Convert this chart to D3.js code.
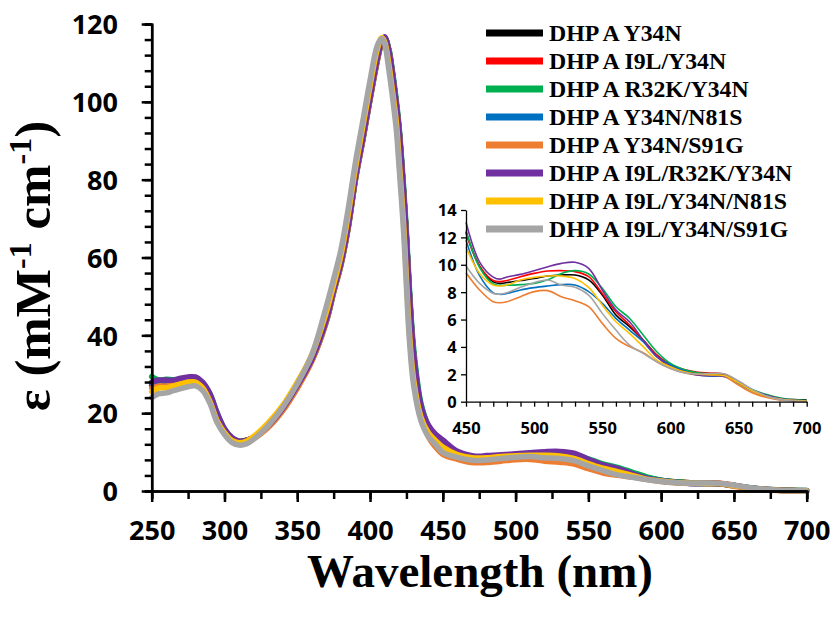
<!DOCTYPE html>
<html>
<head>
<meta charset="utf-8">
<script src="https://cdn.jsdelivr.net/npm/d3@7"></script>
<style>
  html, body { margin: 0; padding: 0; background: #fff; }
  svg { display: block; }
</style>
</head>
<body>
<svg id="chart" width="835" height="619"></svg>
<script>
// ---------- DATA ----------
const wavelengths = [250,255,260,265,270,275,280,285,290,295,300,305,310,315,320,330,340,350,360,370,375,380,385,390,395,400,405,408,410,413,415,418,420,423,425,427,430,435,440,445,450,460,470,475,480,490,500,510,520,530,540,550,560,570,580,590,600,610,620,630,640,650,660,670,680,690,700];

const seriesNames = ["DHP A Y34N","DHP A I9L/Y34N","DHP A R32K/Y34N","DHP A Y34N/N81S","DHP A Y34N/S91G","DHP A I9L/R32K/Y34N","DHP A I9L/Y34N/N81S","DHP A I9L/Y34N/S91G"];
const seriesColors = ["#000000","#FF0000","#00B050","#0070C0","#ED7D31","#7030A0","#FFC000","#A5A5A5"];

const y34n = [27,27.5,27.5,28,28.3,28.7,28.7,27.5,24.5,19.5,15.7,13.5,12.7,13,13.8,16.8,21.2,27,33.8,44,51.5,58.5,68,80.5,90.5,101,111,115.5,116.5,113,108.3,99.5,92.5,77,65,51,35,21.5,16,13.5,12.4,
  9.9,8.75,8.64,8.7,8.85,9.0,9.18,9.25,9.25,8.9,7.8,6.33,5.48,4.5,3.4,2.68,2.3,2.07,2.02,1.95,1.39,0.8,0.41,0.22,0.15,0.12];
const i9lY34n = [27,27.5,27.5,28,28.3,28.7,28.7,27.5,24.5,19.5,15.7,13.5,12.7,13,13.8,16.8,21.2,27,33.8,44,51.5,58.5,68,80.5,90.5,101,111,115.5,116.5,113,108.3,99.5,92.5,77,65,51,35,21.5,16,13.5,12.3,
  9.9,8.85,8.77,8.85,9.13,9.37,9.54,9.57,9.5,9.13,7.9,6.57,5.6,4.5,3.4,2.7,2.35,2.15,2.1,2.0,1.45,0.82,0.42,0.2,0.1,0.05];
const r32kY34n = [29.4,28.5,28.7,28.6,28.8,29,29,27.8,25,20,16,13.7,12.8,13,13.7,16.6,21,26.8,33.5,43.5,51,58,67.5,80,90,100.5,110.5,115.2,116.6,113.5,109,100.5,93.5,78.5,66.5,52.5,36.5,22.5,16.8,14,12.5,
  9.8,8.6,8.5,8.5,8.55,8.64,8.9,9.37,9.57,9.33,8.28,6.94,6.09,4.87,3.65,2.8,2.36,2.12,2.02,1.87,1.39,0.9,0.54,0.29,0.15,0.07];
const y34nN81s = [27.5,27.8,27.8,28,28.2,28.5,28.5,27.3,24.3,19.3,15.5,13.3,12.6,12.9,13.6,16.5,20.8,26.6,33.5,43.7,51.2,58.3,67.8,80.2,90.3,100.8,110.8,115.3,116.4,113,108.3,99.5,92.5,77,65,51,35,21.3,15.5,13,11.8,
  9.2,7.95,7.84,7.9,8.16,8.33,8.45,8.55,8.52,8.04,7.18,6.09,5.23,4.38,3.29,2.68,2.26,1.95,1.87,1.83,1.34,0.8,0.42,0.2,0.1,0.04];
const y34nS91g = [26.5,27,27,27.5,27.8,28.2,28.2,27,24,19,15.3,13.1,12.4,12.7,13.4,16.3,20.6,26.4,33.3,43.5,51,58,67.5,80,90,100.5,110.5,115.2,116.3,113,108.3,99.5,92.5,77,65,51,35,20.5,14,11.3,9.42,
  8.16,7.3,7.23,7.3,7.67,8.04,8.11,7.67,7.38,6.94,5.72,4.63,4.02,3.58,2.92,2.43,2.12,1.95,1.95,1.83,1.22,0.66,0.32,0.12,0.05,0];
const i9lR32kY34n = [28,28.5,28.5,28.5,29,29.3,29.3,28,25,20,16,13.8,12.8,13,13.8,16.8,21.2,27,33.8,44,51.5,58.5,68,80.5,90.5,101,111,115.5,116.7,113,108.3,99.5,92.5,77,65,51,35,22,17,14.6,13.1,
  10.2,9.1,8.95,9.1,9.3,9.57,9.86,10.1,10.18,9.74,8.16,6.7,5.84,4.5,3.29,2.56,2.19,1.95,1.9,1.87,1.46,0.85,0.49,0.24,0.12,0.05];
const i9lY34nN81s = [25.5,26.5,26.5,27,27.5,28,28,26.5,23,18,15,13,12.4,12.8,14,17.5,22,28,35,46,53,60.5,71,83,93.5,104,113.5,116.5,115.5,109.5,104,95,85,69,54.5,41,28.5,19,15,13,11.3,
  9.37,8.52,8.45,8.52,8.89,9.08,9.18,9.18,9.0,8.35,7.06,5.84,4.99,4.02,3.04,2.56,2.19,2.02,1.95,1.9,1.39,0.8,0.42,0.2,0.1,0.05];
const i9lY34nS91g = [24,25,25.2,25.8,26.3,26.8,27,25.8,22.5,17.5,14.5,12.5,11.8,12.1,13.3,16.8,21.5,27.5,35,47.5,54.5,62,72.5,84.5,95,105.5,114.5,116.3,115,108,102.5,93,83,67,52.5,39,27,18,14,12,9.91,
  8.64,7.91,7.85,7.96,8.35,8.69,8.89,8.52,8.35,7.79,6.45,5.23,4.14,3.53,2.92,2.43,2.12,2.02,2.07,2.02,1.51,0.9,0.44,0.17,0.07,0.02];

const seriesValues = [y34n, i9lY34n, r32kY34n, y34nN81s, y34nS91g, i9lR32kY34n, i9lY34nN81s, i9lY34nS91g];

const xMainTicks = [250,300,350,400,450,500,550,600,650,700];
const yMainTicks = [0,20,40,60,80,100,120];
const xInsetTicks = [450,500,550,600,650,700];
const yInsetTicks = [0,2,4,6,8,10,12,14];

// ---------- DRAW ----------
const svg = d3.select("#chart");
const labelFont = "'Open Sans', Lato, sans-serif";
const serifFont = "'Liberation Serif', 'Times New Roman', serif";

const x = d3.scaleLinear().domain([250, 700]).range([151.7, 806.7]);
const y = d3.scaleLinear().domain([0, 120]).range([491, 24]);
const xi = d3.scaleLinear().domain([450, 700]).range([466, 806.7]);
const yi = d3.scaleLinear().domain([0, 14]).range([401.7, 210]);

const series = seriesNames.map((name, i) => ({
  name, color: seriesColors[i],
  points: wavelengths.map((w, j) => ({ w, v: seriesValues[i][j] }))
}));

// main lines
const mainLine = d3.line().x(d => x(d.w)).y(d => y(d.v)).curve(d3.curveCatmullRom.alpha(0.5));
svg.append("g").selectAll("path").data(series).join("path")
  .attr("d", d => mainLine(d.points))
  .attr("fill", "none")
  .attr("stroke", d => d.color)
  .attr("stroke-width", 5.5)
  .attr("stroke-linejoin", "round")
  .attr("stroke-linecap", "round");

// main axes
function styleAxis(g, w) {
  g.select(".domain").attr("stroke", "#000").attr("stroke-width", w);
  g.selectAll(".tick line").attr("stroke", "#000").attr("stroke-width", w);
}
const gxMinor = svg.append("g").attr("transform", "translate(0,491)")
  .call(d3.axisBottom(x).tickValues(d3.range(250, 701, 25)).tickSize(8).tickFormat(""));
styleAxis(gxMinor, 2.5);
const gx = svg.append("g").attr("transform", "translate(0,491)")
  .call(d3.axisBottom(x).tickValues(xMainTicks).tickSize(11).tickSizeOuter(0));
styleAxis(gx, 2.5);
gx.selectAll(".tick text").attr("y", 39).attr("dy", "0.36em")
  .attr("font-family", labelFont).attr("font-weight", "bold").attr("font-size", 27).attr("fill", "#000");

const gyMinor = svg.append("g").attr("transform", "translate(151.7,0)")
  .call(d3.axisLeft(y).tickValues(d3.range(0, 121, 4)).tickSize(7).tickFormat(""));
styleAxis(gyMinor, 2.5);
const gy = svg.append("g").attr("transform", "translate(151.7,0)")
  .call(d3.axisLeft(y).tickValues(yMainTicks).tickSize(10).tickSizeOuter(0));
styleAxis(gy, 2.5);
gy.selectAll(".tick text").attr("x", -33.7).attr("dy", "0.36em")
  .attr("font-family", labelFont).attr("font-weight", "bold").attr("font-size", 27).attr("fill", "#000");

// axis titles
svg.append("text")
  .attr("x", 480).attr("y", 587).attr("text-anchor", "middle")
  .attr("font-family", serifFont).attr("font-weight", "bold").attr("font-size", 47)
  .text("Wavelength (nm)");

const yt = svg.append("text")
  .attr("transform", "translate(50,266) rotate(-90)")
  .attr("text-anchor", "middle")
  .attr("font-family", serifFont).attr("font-weight", "bold").attr("font-size", 51);
yt.append("tspan").text("ε (mM");
yt.append("tspan").attr("font-size", 32).attr("dy", -19).text("-1");
yt.append("tspan").attr("dy", 19).text(" cm");
yt.append("tspan").attr("font-size", 32).attr("dy", -19).text("-1");
yt.append("tspan").attr("dy", 19).text(")");

// inset lines
const insetLine = d3.line().x(d => xi(d.w)).y(d => yi(d.v)).curve(d3.curveCatmullRom.alpha(0.5));
svg.append("g").selectAll("path").data(series).join("path")
  .attr("d", d => insetLine(d.points.filter(p => p.w >= 450)))
  .attr("fill", "none")
  .attr("stroke", d => d.color)
  .attr("stroke-width", 1.6)
  .attr("stroke-linejoin", "round");

// inset axes
const gix = svg.append("g").attr("transform", "translate(0,401.7)")
  .call(d3.axisBottom(xi).tickValues(d3.range(450, 701, 10)).tickSize(5).tickSizeOuter(0)
    .tickFormat(d => xInsetTicks.includes(d) ? d : ""));
styleAxis(gix, 1.3);
gix.selectAll(".tick text").attr("y", 26).attr("dy", "0.36em")
  .attr("font-family", labelFont).attr("font-weight", "bold").attr("font-size", 16.5).attr("fill", "#000");

const giy = svg.append("g").attr("transform", "translate(466,0)")
  .call(d3.axisLeft(yi).tickValues(yInsetTicks).tickSize(5).tickSizeOuter(0));
styleAxis(giy, 1.3);
giy.selectAll(".tick text").attr("x", -9.3).attr("dy", "0.36em")
  .attr("font-family", labelFont).attr("font-weight", "bold").attr("font-size", 16.5).attr("fill", "#000");

// legend
const legend = svg.append("g");
const rows = legend.selectAll("g").data(series).join("g")
  .attr("transform", (d, i) => `translate(0,${33 + i * 28})`);
rows.append("line").attr("x1", 486).attr("x2", 543).attr("y1", 0).attr("y2", 0)
  .attr("stroke", d => d.color).attr("stroke-width", 7);
rows.append("text").attr("x", 549).attr("y", 8)
  .attr("font-family", serifFont).attr("font-weight", "bold").attr("font-size", 23.8)
  .attr("fill", "#000")
  .text(d => d.name);
</script>
</body>
</html>
